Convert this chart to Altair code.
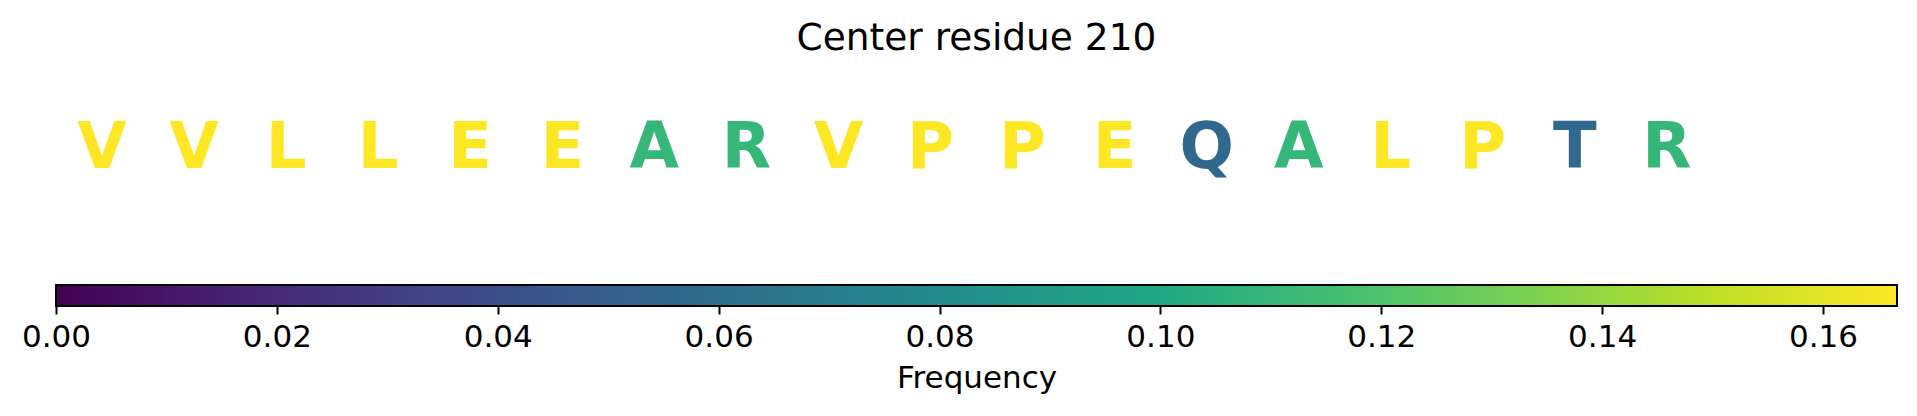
import altair as alt
import pandas as pd

# ---- data ----
residues = ["V", "V", "L", "L", "E", "E", "A", "R", "V", "P", "P", "E", "Q", "A", "L", "P", "T", "R"]
frequencies = [0.1667, 0.1667, 0.1667, 0.1667, 0.1667, 0.1667, 0.1111, 0.1111, 0.1667,
               0.1667, 0.1667, 0.1667, 0.0556, 0.1111, 0.1667, 0.1667, 0.0556, 0.1111]
positions = list(range(len(residues)))
cbar_min = [0.0]
cbar_max = [0.1667]
tick_values = [0.00, 0.02, 0.04, 0.06, 0.08, 0.10, 0.12, 0.14, 0.16]

# ---- style ----
FONT = "DejaVu Sans"
viridis_stops = ["#440154", "#482475", "#414487", "#355f8d", "#2a788e", "#21918c",
                 "#22a884", "#44bf70", "#7ad151", "#bddf26", "#fde725"]

W = 1841
H = 239

letters_df = pd.DataFrame({"pos": positions, "res": residues, "freq": frequencies})
cbar_df = pd.DataFrame({"lo": cbar_min, "hi": cbar_max})

letters = alt.Chart(letters_df).mark_text(
    font=FONT, fontWeight="bold", fontSize=64, align="center", baseline="alphabetic"
).encode(
    x=alt.X("pos:Q", scale=alt.Scale(domain=[-0.5, 19.5], nice=False, zero=False), axis=None),
    y=alt.value(100.7),
    text="res:N",
    color=alt.Color("freq:Q", scale=alt.Scale(scheme="viridis", domain=[cbar_min[0], cbar_max[0]]), legend=None),
)

gradient = alt.LinearGradient(
    gradient="linear",
    stops=[alt.GradientStop(color=c, offset=i / (len(viridis_stops) - 1)) for i, c in enumerate(viridis_stops)],
    x1=0, x2=1, y1=0, y2=0,
)

cbar = alt.Chart(cbar_df).mark_rect(color=gradient, stroke="black", strokeWidth=2).encode(
    x=alt.X("lo:Q", scale=alt.Scale(domain=[cbar_min[0], cbar_max[0]], nice=False, zero=False),
            axis=alt.Axis(values=tick_values, format=".2f", title="Frequency",
                          tickSize=8, tickWidth=2, tickColor="black", domain=False, grid=False,
                          labelFlush=False, labelOverlap=False,
                          labelFontSize=31, titleFontSize=31, labelColor="black", titleColor="black",
                          titleFontWeight="normal", labelFont=FONT, titleFont=FONT,
                          labelPadding=8, titlePadding=11)),
    x2="hi:Q",
    y=alt.value(218),
    y2=alt.value(H),
)

chart = alt.layer(cbar, letters).resolve_scale(x="independent").properties(
    width=W, height=H,
    title=alt.TitleParams("Center residue 210", font=FONT, fontSize=37.5, fontWeight="normal",
                          color="black", anchor="middle", offset=10),
    padding={"left": 13, "top": 11, "right": 5, "bottom": 5},
    background="white",
).configure_view(stroke=None)

chart.save("out.html", embed_options={"renderer": "svg", "actions": False})
